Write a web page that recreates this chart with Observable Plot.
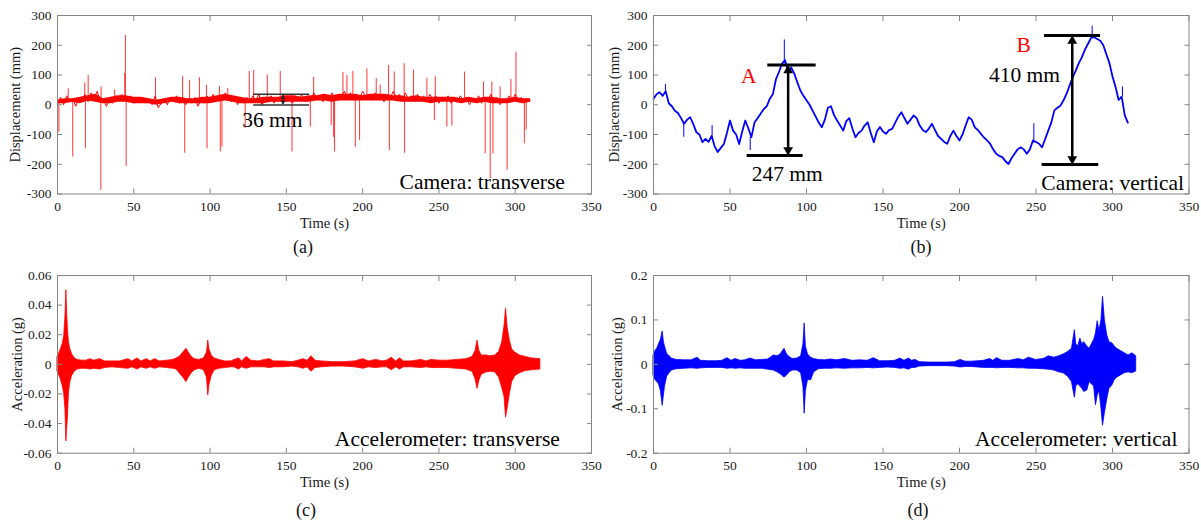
<!DOCTYPE html>
<html><head><meta charset="utf-8">
<script src="https://cdn.jsdelivr.net/npm/d3@7"></script>
<script src="https://cdn.jsdelivr.net/npm/@observablehq/plot@0.6"></script>
<style>
body{margin:0;background:#fff;}
#wrap{position:relative;width:1201px;height:522px;background:#fff;overflow:hidden;font-family:"Liberation Serif","Times New Roman",Times,serif;}
.cap{position:absolute;font-size:18px;line-height:18px;transform:translateX(-50%);color:#111;white-space:nowrap;}
</style></head><body><div id="wrap"></div>
<script>
// ---------- data ----------
const timeTicks = [0, 50, 100, 150, 200, 250, 300, 350];
const dispTicks = [-300, -200, -100, 0, 100, 200, 300];
const accTransTicks = [-0.06, -0.04, -0.02, 0, 0.02, 0.04, 0.06];
const accVertTicks = [-0.2, -0.1, 0, 0.1, 0.2];
const sampleStep = 2; // s between displacement samples

// (a) camera transverse displacement (mm), one value every 2 s
const transDisp = [5,25,0,30,10,20,-5,25,15,35,10,40,20,45,15,20,-5,15,5,30,15,35,25,10,30,5,20,10,25,5,20,0,30,-10,5,15,0,25,10,30,5,25,0,20,5,25,-5,15,5,30,10,35,15,30,20,40,25,10,30,0,20,5,25,10,30,15,35,0,20,10,30,5,25,15,35,10,25,5,30,15,35,10,25,15,40,20,30,10,35,20,40,15,30,20,45,25,40,15,35,20,45,25,35,15,40,20,35,10,30,20,45,25,35,15,40,20,30,10,35,15,30,10,35,20,30,5,25,15,30,5,25,10,30,15,25,0,20,10,30,5,25,15,35,10,25,0,20,10,30,15,35,10,25,5,20,15];
// (a) dense core of the noise band, upper / lower edge every 5 s (mm)
const transBandT  = [0,5,10,15,20,25,30,35,40,45,50,55,60,65,70,75,80,85,90,95,100,105,110,115,120,125,130,135,140,145,150,155,160,165,170,175,180,185,190,195,200,205,210,215,220,225,230,235,240,245,250,255,260,265,270,275,280,285,290,295,300,305,310];
const transBandHi = [15,20,20,25,30,35,20,25,30,30,25,25,20,15,20,25,25,20,20,25,25,30,35,30,25,20,20,25,25,25,30,30,25,30,30,35,30,35,35,35,30,35,35,35,30,30,25,30,25,25,25,25,25,20,25,20,25,25,20,20,25,20,20];
const transBandLo = [3,3,8,3,13,8,3,3,8,8,3,3,3,-2,3,8,3,3,3,3,3,8,13,8,3,3,3,3,8,8,8,8,8,8,13,13,8,13,13,13,13,13,13,13,13,8,8,8,8,3,8,8,8,3,8,3,8,3,3,3,8,3,8];
// (a) spikes: [time s, peak mm]
const transSpikes = [[0.9,-92],[7,54],[10,-176],[17.9,73],[18.3,-148],[20.1,98],[28.4,-288],[28.6,60],[37.5,50],[44.1,105],[44.5,233],[45,-207],[64.2,90],[82,95],[83.4,-163],[86.6,82],[93,91],[97.6,65],[98,-148],[106.1,62],[106.7,-159],[107.8,-143],[111.6,55],[123,-79],[125.7,112],[128.6,115],[137.5,100],[146,112],[153.7,-159],[165.7,-75],[167.9,92],[179.4,-70],[181,-110],[181.6,-159],[187.1,109],[189.7,98],[193.6,112],[195.2,-143],[198,-120],[202.8,121],[208.9,88],[211.5,66],[217,132],[217.5,-154],[220.7,110],[227.2,138],[227.5,-163],[233.3,116],[242.1,88],[247,-53],[247.6,94],[255.2,-75],[258.5,-72],[266.8,110],[279.2,76],[280.3,-165],[283.6,-248],[284.7,76],[285.4,-165],[290.1,60],[294.7,-220],[297.2,85],[300.5,176],[306,-131],[307.2,-85]];
// (a) annotation: bars [mm, t1, t2], arrow [t, mm1, mm2]
const transBars = [[35, 128.6, 165.2], [-1, 128.6, 165.2]];
const transArrow = [[147.8, 33, 1]];

// (b) camera vertical displacement (mm), one value every 2 s
const vertDisp = [20,35,42,30,45,5,-5,-20,-28,-45,-64,-50,-42,-65,-92,-100,-126,-115,-125,-105,-140,-159,-145,-132,-95,-53,-87,-100,-132,-90,-53,-80,-109,-60,-45,-30,-15,-5,20,35,85,110,138,150,110,125,105,75,48,30,15,0,-20,-40,-60,-76,-50,-10,-5,-35,-53,-70,-87,-55,-45,-80,-109,-95,-87,-70,-59,-95,-126,-90,-75,-90,-98,-85,-81,-60,-40,-25,-45,-64,-50,-36,-45,-70,-85,-92,-80,-64,-85,-105,-115,-125,-131,-105,-87,-105,-120,-100,-70,-42,-50,-76,-85,-98,-110,-120,-131,-150,-165,-172,-176,-190,-199,-180,-165,-150,-143,-150,-165,-150,-120,-125,-131,-143,-115,-87,-60,-19,-10,-3,15,37,65,93,115,140,160,185,205,225,227,221,215,200,170,140,95,60,16,27,-35,-60];
// (b) spikes: [t, from mm, to mm]
const vertSpikes = [[7.8,40,68],[19.8,-64,-109],[38.3,-110,-70],[63.2,-109,-154],[85.5,145,218],[248.6,-130,-64],[286.7,227,264],[306.5,27,60]];
// (b) annotation bars [mm, t1, t2] and arrows [t, top mm, bottom mm]
const vertBars = [[134, 74.7, 106.3], [-171, 61.2, 97.8], [233, 255.6, 292.2], [-201, 254, 291]];
const vertArrows = [[88, 134, -171], [273.7, 233, -201]];
const vertLabels = [{t: 62.3, v: 95, s: "A", c: "red"}, {t: 242, v: 199, s: "B", c: "red"}, {t: 87.4, v: -232, s: "247 mm", c: "black"}, {t: 242.5, v: 98, s: "410 mm", c: "black"}];

// (c) accelerometer transverse envelope (g)
const accTransT  = [0,1,2.2,3.5,4.4,5.2,5.8,6.3,6.8,7.5,8.2,9.5,11,13,16,19,21.5,24,28,31,36,41,46.5,49,52.5,55,58.5,61,64,67,72,76,78,80,82.5,84.5,86,88,90,93,96,98,98.8,99.6,101,103,106,110,114,116,119,121,124,127,132,136,139,142,148,154,158,161,164,166.5,169,173,180,188,195,200.5,204,209,213,216,219,222,224.5,227,232,238.5,242,245,250,256,262,268,272,274,275.3,276.5,278,281,284,287,289.5,291.5,293,294,295,296.5,298,300,303,307,311,316.5];
const accTransHi = [0.005,0.007,0.010,0.014,0.019,0.032,0.050,0.035,0.024,0.015,0.011,0.007,0.0045,0.003,0.0025,0.0025,0.0035,0.0025,0.0035,0.002,0.002,0.002,0.0035,0.002,0.004,0.002,0.0035,0.002,0.0035,0.002,0.0025,0.003,0.004,0.005,0.008,0.0105,0.008,0.005,0.0035,0.003,0.004,0.008,0.016,0.010,0.006,0.004,0.003,0.002,0.002,0.003,0.004,0.002,0.005,0.0025,0.002,0.003,0.0035,0.002,0.002,0.0015,0.0025,0.0035,0.0025,0.0055,0.0025,0.002,0.0015,0.0015,0.002,0.0035,0.002,0.003,0.002,0.0025,0.0045,0.002,0.004,0.002,0.002,0.003,0.002,0.003,0.0025,0.0025,0.003,0.0035,0.005,0.009,0.016,0.009,0.006,0.006,0.0055,0.006,0.0085,0.015,0.026,0.0375,0.025,0.016,0.010,0.008,0.006,0.005,0.004,0.0035];
const accTransLo = [-0.005,-0.007,-0.010,-0.015,-0.020,-0.030,-0.052,-0.044,-0.036,-0.020,-0.013,-0.008,-0.0053,-0.0035,-0.003,-0.003,-0.0035,-0.003,-0.0035,-0.0025,-0.002,-0.0025,-0.003,-0.002,-0.0035,-0.002,-0.003,-0.002,-0.003,-0.002,-0.0025,-0.003,-0.0035,-0.006,-0.009,-0.012,-0.009,-0.006,-0.004,-0.003,-0.004,-0.009,-0.021,-0.014,-0.008,-0.004,-0.003,-0.0025,-0.002,-0.002,-0.0035,-0.002,-0.003,-0.002,-0.002,-0.002,-0.0025,-0.002,-0.002,-0.0015,-0.002,-0.003,-0.002,-0.005,-0.0025,-0.002,-0.0015,-0.0015,-0.002,-0.003,-0.002,-0.0025,-0.002,-0.002,-0.004,-0.002,-0.0035,-0.002,-0.002,-0.0025,-0.002,-0.0025,-0.0025,-0.0025,-0.003,-0.0035,-0.005,-0.010,-0.0165,-0.011,-0.007,-0.0055,-0.005,-0.0055,-0.009,-0.016,-0.022,-0.036,-0.030,-0.020,-0.012,-0.008,-0.006,-0.0045,-0.004,-0.0035];

// (d) accelerometer vertical envelope (g)
const accVertT  = [0,1.2,2.4,3.6,4.8,6,6.8,7.5,8.9,10.5,12,15,20,25,28.8,31,36,41,45,48.3,51,53.6,57,60,63.4,67,71,75,78.6,81,83,85.6,87.3,89,91,94,96.5,98,98.8,99.6,101,103,105,108,112,116,120,125,130,135,140,144,148,153,158,161.4,164,166.9,169,171.2,174,180,186,192,197,200.7,204,208,212,216,220,222,224.6,228,233,238.7,242,245.3,250,255,258.4,262,265,268,271,273.5,275.4,276.3,277.5,279,280.2,281.5,283.5,285,286.5,288,289.2,290.3,291.5,292.8,293.8,295,296.6,298,300,301.5,303,305.5,308,310.5,313,315.5];
const accVertHi = [0.02,0.03,0.035,0.045,0.055,0.074,0.05,0.04,0.024,0.018,0.013,0.01,0.009,0.009,0.015,0.008,0.007,0.007,0.008,0.014,0.008,0.012,0.008,0.009,0.013,0.009,0.01,0.011,0.02,0.018,0.022,0.035,0.022,0.016,0.012,0.013,0.018,0.045,0.092,0.04,0.022,0.015,0.012,0.01,0.009,0.011,0.009,0.012,0.008,0.009,0.008,0.014,0.007,0.007,0.008,0.013,0.008,0.013,0.008,0.01,0.005,0.004,0.004,0.004,0.005,0.01,0.006,0.006,0.007,0.008,0.012,0.008,0.014,0.008,0.008,0.012,0.009,0.015,0.01,0.012,0.018,0.015,0.018,0.022,0.028,0.035,0.077,0.045,0.04,0.058,0.045,0.05,0.04,0.035,0.045,0.055,0.07,0.097,0.075,0.1,0.152,0.1,0.065,0.05,0.047,0.04,0.035,0.03,0.025,0.02,0.025,0.018];
const accVertLo = [-0.025,-0.035,-0.04,-0.045,-0.06,-0.093,-0.07,-0.05,-0.028,-0.02,-0.014,-0.011,-0.01,-0.009,-0.01,-0.009,-0.008,-0.008,-0.008,-0.01,-0.009,-0.01,-0.009,-0.01,-0.01,-0.01,-0.01,-0.012,-0.014,-0.018,-0.022,-0.03,-0.025,-0.018,-0.014,-0.014,-0.02,-0.05,-0.111,-0.06,-0.035,-0.036,-0.018,-0.011,-0.01,-0.01,-0.009,-0.01,-0.009,-0.009,-0.008,-0.009,-0.008,-0.007,-0.008,-0.01,-0.009,-0.012,-0.008,-0.008,-0.005,-0.004,-0.004,-0.004,-0.005,-0.007,-0.006,-0.006,-0.007,-0.008,-0.008,-0.008,-0.009,-0.008,-0.008,-0.009,-0.009,-0.01,-0.01,-0.011,-0.012,-0.014,-0.018,-0.02,-0.028,-0.04,-0.075,-0.05,-0.045,-0.05,-0.055,-0.062,-0.059,-0.04,-0.045,-0.05,-0.092,-0.07,-0.06,-0.1,-0.138,-0.11,-0.078,-0.055,-0.047,-0.035,-0.03,-0.025,-0.02,-0.018,-0.02,-0.016];

// ---------- drawing ----------
const FONT = '"Liberation Serif", "Times New Roman", Times, serif';
const FRAME = "#858585";
const TXT = "#1a1a1a";
const RED = "#ff0000";
const BLUE = "#0000ff";
const wrap = document.getElementById("wrap");
const fmt = d => String(d);

function envelope(T, H, L) { return T.map((t, i) => ({t, hi: H[i], lo: L[i]})); }

function makePanel(o) {
  const fig = Plot.plot({
    width: o.width, height: 235,
    marginLeft: o.ml, marginRight: o.mr, marginTop: 15, marginBottom: o.mb,
    style: {fontFamily: FONT, background: "transparent", overflow: "visible", color: TXT},
    x: {domain: [0, 350]},
    y: {domain: o.yDomain},
    marks: [
      ...o.marks,
      Plot.frame({stroke: FRAME, strokeWidth: 1}),
      Plot.axisX(timeTicks, {anchor: "bottom", tickSize: -5, tickPadding: 12.6, stroke: FRAME, fill: TXT, fontSize: 13.5, tickFormat: fmt, label: null}),
      Plot.axisX(timeTicks, {anchor: "top", tickSize: -5, stroke: FRAME, tickFormat: () => "", label: null}),
      Plot.axisY(o.yTicks, {anchor: "left", tickSize: -5, tickPadding: 11, stroke: FRAME, fill: TXT, fontSize: 13.5, tickFormat: fmt, label: null}),
      Plot.axisY(o.yTicks, {anchor: "right", tickSize: -5, stroke: FRAME, tickFormat: () => "", label: null}),
      Plot.text([o.yLabel], {text: d => d, frameAnchor: "left", dx: o.yLabelDx, rotate: -90, textAnchor: "middle", lineAnchor: "middle", fontSize: 14.5, fill: TXT}),
      Plot.text(["Time (s)"], {text: d => d, frameAnchor: "bottom", dy: 29, textAnchor: "middle", lineAnchor: "middle", fontSize: 14.5, fill: TXT}),
      Plot.text([o.note], {text: d => d, frameAnchor: "bottom-right", dx: o.noteDx, dy: o.noteDy, textAnchor: "end", lineAnchor: "middle", fontSize: 21.5, fill: "#000"})
    ]
  });
  fig.style.position = "absolute";
  fig.style.left = o.left + "px";
  fig.style.top = o.top + "px";
  wrap.appendChild(fig);
}

function caption(text, x, y) {
  const d = document.createElement("div");
  d.className = "cap"; d.textContent = text;
  d.style.left = x + "px"; d.style.top = y + "px";
  wrap.appendChild(d);
}

// (a)
makePanel({
  left: 0, top: 0, width: 600, ml: 57, mr: 9, mb: 41.5,
  yDomain: [-300, 300], yTicks: dispTicks, yLabel: "Displacement (mm)", yLabelDx: -41.7,
  note: "Camera: transverse", noteDx: -26.6, noteDy: -11.8,
  marks: [
    Plot.ruleX(transSpikes, {x: d => d[0], y1: 15, y2: d => d[1], stroke: RED, strokeOpacity: 0.8, strokeWidth: 1}),
    Plot.areaY(envelope(transBandT, transBandHi, transBandLo), {x: "t", y1: "lo", y2: "hi", fill: RED}),
    Plot.line(transDisp, {x: (d, i) => i * sampleStep, y: d => d, stroke: RED, strokeWidth: 1}),
    Plot.ruleY(transBars, {y: d => d[0], x1: d => d[1], x2: d => d[2], stroke: "#333", strokeWidth: 1.5}),
    Plot.ruleX(transArrow, {x: d => d[0], y1: d => d[1], y2: d => d[2], stroke: "#222", strokeWidth: 1}),
    Plot.dot(transArrow, {x: d => d[0], y: d => d[1], symbol: "triangle", r: 1.8, fill: "#222", dy: 2.5}),
    Plot.dot(transArrow, {x: d => d[0], y: d => d[2], symbol: "triangle", r: 1.8, fill: "#222", rotate: 180, dy: -2.5}),
    Plot.text(["36 mm"], {text: d => d, x: 140.8, y: -53, fontSize: 21.5, fill: "#000"})
  ]
});

// (b)
makePanel({
  left: 600, top: 0, width: 601, ml: 53, mr: 12.5, mb: 41.5,
  yDomain: [-300, 300], yTicks: dispTicks, yLabel: "Displacement (mm)", yLabelDx: -39.6,
  note: "Camera: vertical", noteDx: -5, noteDy: -11,
  marks: [
    Plot.ruleX(vertSpikes, {x: d => d[0], y1: d => d[1], y2: d => d[2], stroke: BLUE, strokeWidth: 1}),
    Plot.line(vertDisp, {x: (d, i) => i * sampleStep, y: d => d, stroke: BLUE, strokeWidth: 1.8}),
    Plot.ruleY(vertBars, {y: d => d[0], x1: d => d[1], x2: d => d[2], stroke: "#000", strokeWidth: 3}),
    Plot.ruleX(vertArrows, {x: d => d[0], y1: d => d[1], y2: d => d[2], stroke: "#000", strokeWidth: 2.5, insetTop: 6, insetBottom: 6}),
    Plot.dot(vertArrows, {x: d => d[0], y: d => d[1], symbol: "triangle", r: 3.6, fill: "#000", dy: 5.5}),
    Plot.dot(vertArrows, {x: d => d[0], y: d => d[2], symbol: "triangle", r: 3.6, fill: "#000", rotate: 180, dy: -5.5}),
    Plot.text(vertLabels, {x: "t", y: "v", text: "s", fill: d => d.c === "red" ? RED : "#000", fontSize: 21.5})
  ]
});

// (c)
makePanel({
  left: 0, top: 260, width: 600, ml: 57, mr: 9, mb: 42.3,
  yDomain: [-0.06, 0.06], yTicks: accTransTicks, yLabel: "Acceleration (g)", yLabelDx: -39.8,
  note: "Accelerometer: transverse", noteDx: -31.6, noteDy: -14.4,
  marks: [
    Plot.areaY(envelope(accTransT, accTransHi, accTransLo), {x: "t", y1: "lo", y2: "hi", fill: RED, stroke: RED, strokeWidth: 0.8})
  ]
});

// (d)
makePanel({
  left: 600, top: 260, width: 601, ml: 53, mr: 12.5, mb: 42.3,
  yDomain: [-0.2, 0.2], yTicks: accVertTicks, yLabel: "Acceleration (g)", yLabelDx: -35.8,
  note: "Accelerometer: vertical", noteDx: -11.6, noteDy: -14.4,
  marks: [
    Plot.areaY(envelope(accVertT, accVertHi, accVertLo), {x: "t", y1: "lo", y2: "hi", fill: BLUE, stroke: BLUE, strokeWidth: 0.8})
  ]
});

caption("(a)", 303, 238);
caption("(b)", 921, 238);
caption("(c)", 306, 501);
caption("(d)", 918, 501);
</script></body></html>
